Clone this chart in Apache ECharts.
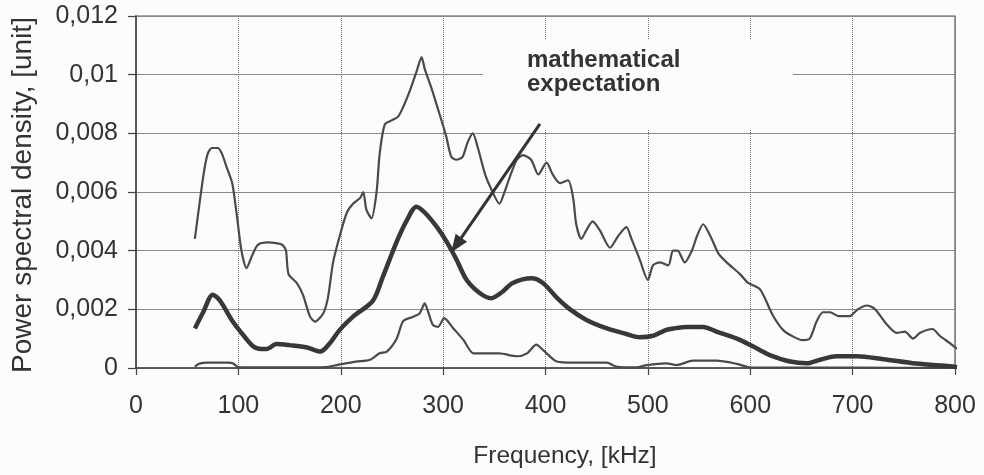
<!DOCTYPE html>
<html>
<head>
<meta charset="utf-8">
<script src="https://cdn.jsdelivr.net/npm/echarts@6/dist/echarts.min.js"></script>
<style>
  html, body { margin: 0; padding: 0; background: #fcfcfc; }
  #chart { width: 984px; height: 475px; }
</style>
</head>
<body>
<div id="chart"></div>
<script>
// Frequency axis (kHz) and PSD axis tick labels
const xTickLabels = ['0', '100', '200', '300', '400', '500', '600', '700', '800'];
const yTickLabels = ['0', '0,002', '0,004', '0,006', '0,008', '0,01', '0,012'];

// Upper envelope of the spectra
const upperFreq = [57.5, 66, 70, 74, 80, 84, 88, 94, 98.5, 103, 108, 113, 119, 129, 138, 143, 146.5, 149, 157, 163,
  170, 175, 183, 187.5, 192.5, 199, 206, 212, 219, 222, 225, 230, 235, 238, 243, 250, 256, 261, 268, 274,
  279, 282, 289, 297, 303, 308, 313, 319, 324, 329, 334, 341, 347, 355, 360, 365, 372, 378, 386, 393,
  401, 407, 414, 422, 427, 430, 435, 440, 446, 453, 463, 471, 479, 484, 492, 500, 505, 512, 520, 524.5,
  529, 536, 543, 548, 554, 561, 569, 577, 590, 598, 609, 614, 622, 632, 642, 651, 658, 665, 671, 678,
  686, 697, 705, 714, 722, 733, 743, 751, 759, 766, 778, 785, 795, 802];
const upperPsd = [0.0044, 0.0066, 0.0073, 0.0075, 0.0075, 0.0073, 0.0069, 0.0063, 0.0052, 0.0040, 0.0034, 0.0038, 0.0042, 0.00428, 0.00425, 0.0042, 0.0040, 0.0032, 0.0029, 0.0025,
  0.00175, 0.00158, 0.00187, 0.0024, 0.0036, 0.0045, 0.0053, 0.0056, 0.0058, 0.0060, 0.0054, 0.0051, 0.0060, 0.0073, 0.0083, 0.00845, 0.00857, 0.0089, 0.0095, 0.0101,
  0.0106, 0.0102, 0.0095, 0.0086, 0.0079, 0.0072, 0.0071, 0.0072, 0.0077, 0.0080, 0.0075, 0.0066, 0.0061, 0.0056, 0.0060, 0.0065, 0.0071, 0.00726, 0.0071, 0.0066,
  0.0070, 0.0066, 0.0063, 0.0064, 0.0058, 0.0049, 0.0044, 0.0047, 0.0050, 0.0047, 0.0041, 0.0045, 0.0048, 0.0044, 0.0037, 0.0030, 0.0035, 0.0036, 0.0035, 0.0040,
  0.0040, 0.0036, 0.0040, 0.0045, 0.0049, 0.0045, 0.0039, 0.0036, 0.0032, 0.0029, 0.0027, 0.0024, 0.0018, 0.0013, 0.00107, 0.00095, 0.0010, 0.0016, 0.0019, 0.0019,
  0.00177, 0.00177, 0.0020, 0.00213, 0.0020, 0.0015, 0.0012, 0.00124, 0.0010, 0.0012, 0.00133, 0.0011, 0.00085, 0.00065];

// Mathematical expectation (mean spectrum)
const meanFreq = [57.5, 65.6, 75, 82, 93.5, 103, 114, 122, 128, 137, 150, 167, 180, 189.5, 199, 212, 231.5, 241, 254.6, 264,
  274, 282, 294, 303.5, 313, 323, 336, 347, 358, 368, 386.5, 397.5, 411, 424, 440, 460, 479, 492, 505, 518,
  525, 538, 554, 567, 587, 603, 610, 619, 639, 655, 670, 684, 704, 730, 762, 795, 802];
const meanPsd = [0.00135, 0.0019, 0.0025, 0.0023, 0.00164, 0.0012, 0.00075, 0.00065, 0.00065, 0.00082, 0.00078, 0.0007, 0.00056, 0.00085, 0.0013, 0.00175, 0.0023, 0.0031, 0.0043, 0.0050,
  0.0055, 0.0053, 0.0048, 0.0043, 0.0037, 0.0030, 0.00255, 0.00238, 0.0026, 0.0029, 0.00306, 0.0029, 0.0024, 0.0020, 0.00164, 0.00135, 0.00116, 0.00105, 0.0011, 0.0013,
  0.00135, 0.0014, 0.0014, 0.00124, 0.0010, 0.00073, 0.0006, 0.00044, 0.00022, 0.00016, 0.0003, 0.0004, 0.0004, 0.0003, 0.00015, 0.00006, 0.00003];

// Lower envelope of the spectra
const lowerFreq = [57.5, 62, 70, 90, 95, 100, 120, 150, 185, 196, 215, 228, 238, 245, 254.6, 261, 271, 277, 282, 285.5,
  290, 295, 301, 310, 320, 329.5, 339, 355, 372, 382, 391, 398, 411, 427, 460, 469, 489, 499, 518, 528,
  544, 567, 587, 600, 700, 802];
const lowerPsd = [0.00005, 0.00015, 0.00018, 0.00018, 0.00015, 0.00003, 0.00002, 0.00002, 0.00003, 0.0001, 0.00022, 0.00027, 0.0005, 0.00056, 0.0010, 0.0016, 0.00175, 0.00186, 0.0022, 0.0019,
  0.00147, 0.0014, 0.0017, 0.00135, 0.00095, 0.0005, 0.0005, 0.0005, 0.0004, 0.0005, 0.0008, 0.0006, 0.00022, 0.00018, 0.00018, 0.00005, 0.00002, 0.0001, 0.00016, 0.0001,
  0.00025, 0.00025, 0.00014, 0.00002, 0.00001, 0];

// Arrow pointing at the mean curve, in data coordinates [kHz, PSD]
const arrowFrom = [394.6, 0.00832];
const arrowTo = [312.8, 0.00419];
const noteText = 'mathematical\nexpectation';

const zip = (xs, ys) => xs.map((x, i) => [x, ys[i]]);

const FONT = '"Liberation Sans", Arial, Helvetica, sans-serif';
const TEXT = '#333';

const chart = echarts.init(document.getElementById('chart'), null, { renderer: 'canvas' });

chart.setOption({
  backgroundColor: '#fcfcfc',
  animation: false,
  grid: {
    left: 136, right: 29, top: 16, bottom: 107,
    show: true, borderColor: '#555', borderWidth: 1.2, backgroundColor: 'transparent'
  },
  xAxis: {
    type: 'value', min: 0, max: 800, interval: 100,
    axisLine: { show: true, onZero: false, lineStyle: { color: '#444', width: 1.6 } },
    axisTick: { show: true, length: 7, lineStyle: { color: '#444', width: 1.2 } },
    axisLabel: {
      margin: 26, color: TEXT, fontSize: 25, fontFamily: FONT,
      formatter: (v, i) => xTickLabels[i]
    },
    splitLine: { show: true, lineStyle: { color: '#777', width: 1, type: [1, 1] } }
  },
  yAxis: {
    type: 'value', min: 0, max: 0.012, interval: 0.002,
    axisLine: { show: true, lineStyle: { color: '#444', width: 1.5 } },
    axisTick: { show: true, length: 8, lineStyle: { color: '#444', width: 1.2 } },
    axisLabel: {
      margin: 18, color: TEXT, fontSize: 25, fontFamily: FONT,
      formatter: (v, i) => yTickLabels[i]
    },
    splitLine: { show: true, lineStyle: { color: '#8a8a8a', width: 1.2 } }
  },
  graphic: [
    // white box behind the note, covering the grid
    { type: 'rect', z: 1, silent: true,
      shape: { x: 483, y: 40, width: 310, height: 90 },
      style: { fill: '#fcfcfc' } },
    { type: 'text', z: 10, silent: true, left: 527, top: 48,
      style: { text: noteText, font: 'bold 24px ' + FONT, fill: TEXT, lineHeight: 24.5 } },
    // axis titles
    { type: 'text', z: 10, silent: true, x: 565, y: 456,
      style: { text: 'Frequency, [kHz]', font: '24.5px ' + FONT, fill: TEXT, align: 'center', verticalAlign: 'middle' } },
    { type: 'text', z: 10, silent: true, x: 23, y: 195, rotation: Math.PI / 2,
      style: { text: 'Power spectral density, [unit]', font: '28px ' + FONT, fill: TEXT, align: 'center', verticalAlign: 'middle' } }
  ],
  series: [
    {
      name: 'upper', type: 'line', data: zip(upperFreq, upperPsd),
      showSymbol: false, smooth: 0.25, clip: false,
      lineStyle: { color: '#4a4a4a', width: 2.2 }, z: 3
    },
    {
      name: 'lower', type: 'line', data: zip(lowerFreq, lowerPsd),
      showSymbol: false, smooth: 0.25, clip: false,
      lineStyle: { color: '#4a4a4a', width: 2.2 }, z: 3
    },
    {
      name: 'mean', type: 'line', data: zip(meanFreq, meanPsd),
      showSymbol: false, smooth: 0.3, clip: false,
      lineStyle: { color: '#383838', width: 4.5 }, z: 4,
      markLine: {
        silent: true, animation: false,
        symbol: ['none', 'triangle'], symbolSize: [14, 18],
        lineStyle: { color: '#333', width: 3, type: 'solid' },
        label: { show: false },
        emphasis: { disabled: true },
        data: [[{ coord: arrowFrom }, { coord: arrowTo }]]
      }
    }
  ]
});
</script>
</body>
</html>
